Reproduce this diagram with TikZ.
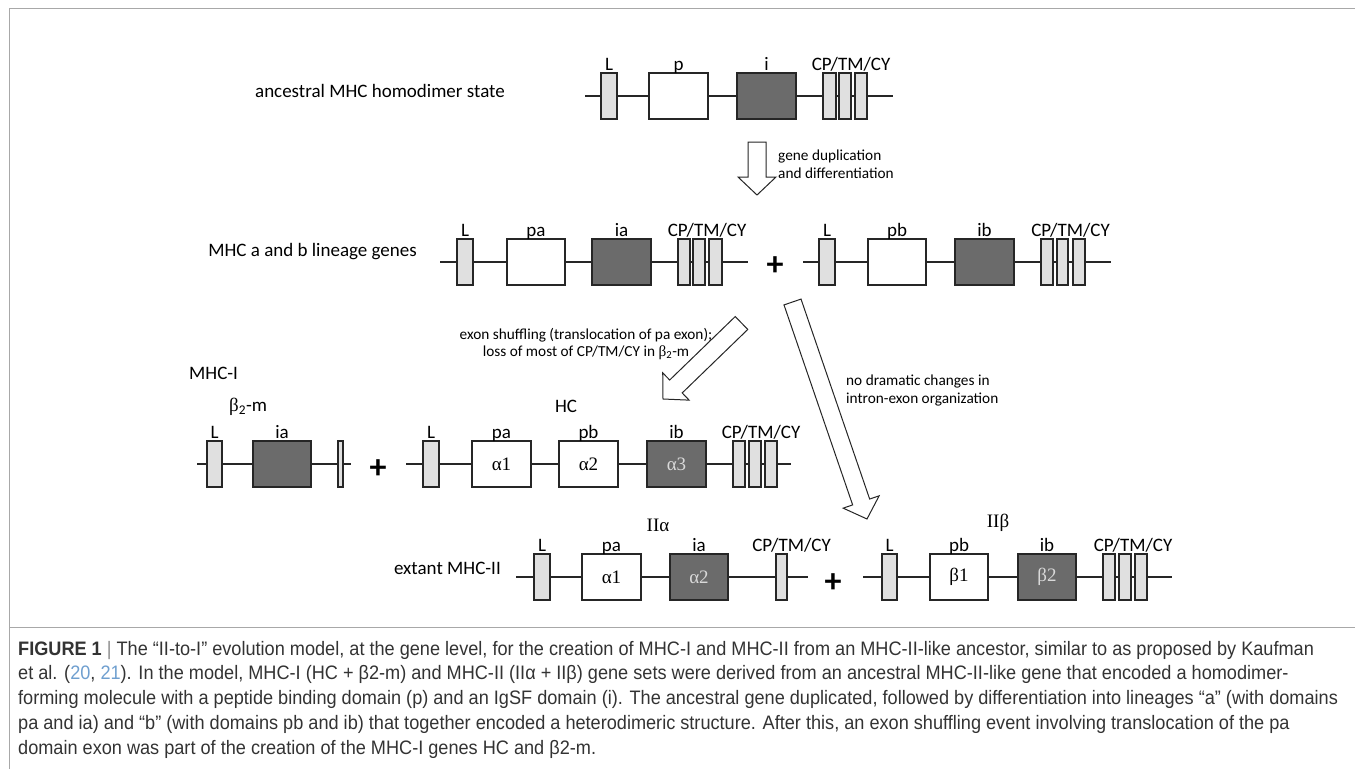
\documentclass[tikz,border=0pt]{standalone}
\usepackage{fontspec}
\setmainfont{Carlito}
\newfontfamily\grfont{Liberation Serif}
\newfontfamily\capfont[FakeStretch=0.93]{Liberation Sans}
\usepackage{tikz}
\usetikzlibrary{calc}
\definecolor{exonlite}{HTML}{E0E0E0}
\definecolor{exondark}{HTML}{6B6B6B}
\definecolor{refblue}{HTML}{6F9FCF}
\definecolor{framegray}{HTML}{A8A8A8}
\tikzset{%
  every exon/.style={
    draw=black!85,
    line width=1.4pt,
    inner sep=0pt,
    minimum height=46pt,
    font=\grfont\fontsize{19}{22}\selectfont
  },
  exon lite/.style={fill=exonlite},
  exon open/.style={fill=white},
  exon dark/.style={fill=exondark, text=black!15},
  exon label/.style={anchor=base, inner sep=0pt, yshift=2pt, font=\fontsize{19}{22}\selectfont},
  backbone/.style={draw=black!85, line width=1.1pt},
  row title/.style={inner sep=0pt, font=\fontsize{19}{22}\selectfont},
  gene name/.style={inner sep=0pt, font=\grfont\fontsize{19}{22}\selectfont},
  note/.style={inner sep=0pt, font=\fontsize{15.3}{17.5}\selectfont},
  block arrow/.style={draw=black!85, fill=white, line width=1pt, line join=miter},
  plus sign/.style={inner sep=0pt, font=\fontsize{34}{34}\selectfont\bfseries},
  caption line/.style={anchor=base west, inner sep=0pt, text=black!80,
    font=\capfont\fontsize{19.5}{22}\selectfont},
}
\newcommand{\blockarrow}[2]{%
  \coordinate (#2-base) at ($(#2)!18pt!(#1)$);
  \draw[block arrow] ($(#1)!9pt!90:(#2)$) -- ($(#2-base)!9pt!90:(#2)$)
    -- ($(#2-base)!19pt!90:(#2)$) -- (#2) -- ($(#2-base)!19pt!-90:(#2)$)
    -- ($(#2-base)!9pt!-90:(#2)$) -- ($(#1)!9pt!-90:(#2)$) -- cycle;
}

\begin{document}
\begin{tikzpicture}[x=1pt, y=-1pt]

    \useasboundingbox (0,0) rectangle (1355,769);
    \draw [framegray, line width=1pt] (9,769) -- (9,8) -- (1356,8);
    \draw [framegray, line width=1pt] (9,627) -- (1356,627);

    % ancestral gene
    \node [row title, anchor=east] (anc-title) at (505,91) {ancestral MHC homodimer state};
    \coordinate (anc-start) at (585,96);
    \coordinate (anc-end) at (893,96);
    \draw [backbone] (anc-start) -- (anc-end);
    \foreach \n/\t/\a/\b/\l in {L/lite/601/617/L, p/open/649/708/p, i/dark/737/796/i,
                                c1/lite/823/836/, c2/lite/839/851/, c3/lite/855/867/} {
        \node [every exon/.try, exon \t/.try, minimum width=\b-\a] (anc-\n) at ({(\a+\b)/2},96) {};
        \node [exon label] at (anc-\n.north) {\l};
    }
    \node [exon label, xshift=6pt] at (anc-c2.north) {CP/TM/CY};

    \coordinate (dup-tail) at (757,142);
    \coordinate (dup-tip) at (757,195);
    \blockarrow{dup-tail}{dup-tip}
    \node [note, anchor=west, align=left] (dup-note) at (778,164) {gene duplication\\and differentiation};

    % a and b lineages
    \node [row title, anchor=east] (lin-title) at (417,252) {MHC a and b lineage genes};
    \coordinate (la-start) at (440,262);
    \coordinate (la-end) at (748,262);
    \draw [backbone] (la-start) -- (la-end);
    \foreach \n/\t/\a/\b/\l in {L/lite/457/473/L, p/open/507/565/pa, i/dark/592/651/ia,
                                c1/lite/678/690/, c2/lite/693/705/, c3/lite/709/722/} {
        \node [every exon/.try, exon \t/.try, minimum width=\b-\a] (la-\n) at ({(\a+\b)/2},262) {};
        \node [exon label] at (la-\n.north) {\l};
    }
    \node [exon label, xshift=8pt] at (la-c2.north) {CP/TM/CY};

    \node [plus sign] (plus-lin) at (775,266) {+};

    \coordinate (lb-start) at (803,262);
    \coordinate (lb-end) at (1111,262);
    \draw [backbone] (lb-start) -- (lb-end);
    \foreach \n/\t/\a/\b/\l in {L/lite/819/835/L, p/open/868/926/pb, i/dark/955/1014/ib,
                                c1/lite/1041/1053/, c2/lite/1057/1068/, c3/lite/1073/1085/} {
        \node [every exon/.try, exon \t/.try, minimum width=\b-\a] (lb-\n) at ({(\a+\b)/2},262) {};
        \node [exon label] at (lb-\n.north) {\l};
    }
    \node [exon label, xshift=8pt] at (lb-c2.north) {CP/TM/CY};

    \coordinate (shuf-tail) at (741.5,323);
    \coordinate (shuf-tip) at (663,399);
    \blockarrow{shuf-tail}{shuf-tip}
    \node [note, align=center] (shuf-note) at (586,344)
        {exon shuffling (translocation of pa exon);\\loss of most of CP/TM/CY in {\grfont β}\textsubscript{2}-m};

    \coordinate (keep-tail) at (792.5,302);
    \coordinate (keep-tip) at (867,519);
    \blockarrow{keep-tail}{keep-tip}
    \node [note, anchor=west, align=left] (keep-note) at (846,390.5)
        {no dramatic changes in\\intron-exon organization};

    % MHC-I
    \node [row title, anchor=west] (mhc1-title) at (189,373) {MHC-I};
    \node [row title, anchor=west] (b2m-title) at (229,407) {{\grfont β}\textsubscript{2}-m};
    \coordinate (b2m-start) at (197,464);
    \coordinate (b2m-end) at (351,464);
    \draw [backbone] (b2m-start) -- (b2m-end);
    \foreach \n/\t/\a/\b/\l in {L/lite/207/222/L, i/dark/253/311/ia, c1/lite/338/343/} {
        \node [every exon/.try, exon \t/.try, minimum width=\b-\a] (b2m-\n) at ({(\a+\b)/2},464) {};
        \node [exon label] at (b2m-\n.north) {\l};
    }

    \node [plus sign] (plus-mhc1) at (378,469) {+};

    \node [row title] (hc-title) at (566,406) {HC};
    \coordinate (hc-start) at (406,464);
    \coordinate (hc-end) at (791,464);
    \draw [backbone] (hc-start) -- (hc-end);
    \foreach \n/\t/\a/\b/\l/\c in {L/lite/423/439/L/, pa/open/472/531/pa/α1, pb/open/559/618/pb/α2,
                                   i/dark/647/706/ib/α3, c1/lite/733/745//, c2/lite/749/761//,
                                   c3/lite/765/777//} {
        \node [every exon/.try, exon \t/.try, minimum width=\b-\a] (hc-\n) at ({(\a+\b)/2},464) {\c};
        \node [exon label] at (hc-\n.north) {\l};
    }
    \node [exon label, xshift=6pt] at (hc-c2.north) {CP/TM/CY};

    % MHC-II
    \node [row title, anchor=east] (mhc2-title) at (501,568) {extant MHC-II};
    \node [gene name] (IIa-title) at (658,525) {IIα};
    \coordinate (IIa-start) at (516,577);
    \coordinate (IIa-end) at (808,577);
    \draw [backbone] (IIa-start) -- (IIa-end);
    \foreach \n/\t/\a/\b/\l/\c in {L/lite/534/550/L/, p/open/582/641/pa/α1, i/dark/670/728/ia/α2,
                                   cp/lite/776/787//} {
        \node [every exon/.try, exon \t/.try, minimum width=\b-\a] (IIa-\n) at ({(\a+\b)/2},577) {\c};
        \node [exon label] at (IIa-\n.north) {\l};
    }
    \node [exon label, xshift=10pt] at (IIa-cp.north) {CP/TM/CY};

    \node [plus sign] (plus-mhc2) at (833,583) {+};

    \node [gene name] (IIb-title) at (998,523) {IIβ};
    \coordinate (IIb-start) at (863,577);
    \coordinate (IIb-end) at (1172,577);
    \draw [backbone] (IIb-start) -- (IIb-end);
    \foreach \n/\t/\a/\b/\l/\c in {L/lite/882/897/L/, p/open/930/988/pb/β1, i/dark/1018/1076/ib/β2,
                                   c1/lite/1103/1115//, c2/lite/1119/1131//, c3/lite/1135/1147//} {
        \node [every exon/.try, exon \t/.try, minimum width=\b-\a] (IIb-\n) at ({(\a+\b)/2},577) {\c};
        \node [exon label] at (IIb-\n.north) {\l};
    }
    \node [exon label, xshift=8pt] at (IIb-c2.north) {CP/TM/CY};

    % caption
    \foreach \l [count=\i from 0] in {
        {\textbf{FIGURE 1} {\color{black!45}|} The “II-to-I” evolution model, at the gene level, for the creation of MHC-I and MHC-II from an MHC-II-like ancestor, similar to as proposed by Kaufman},
        {et al. ({\color{refblue}20}, {\color{refblue}21}). In the model, MHC-I (HC + β2-m) and MHC-II (IIα + IIβ) gene sets were derived from an ancestral MHC-II-like gene that encoded a homodimer-},
        {forming molecule with a peptide binding domain (p) and an IgSF domain (i). The ancestral gene duplicated, followed by differentiation into lineages “a” (with domains},
        {pa and ia) and “b” (with domains pb and ib) that together encoded a heterodimeric structure. After this, an exon shuffling event involving translocation of the pa},
        {domain exon was part of the creation of the MHC-I genes HC and β2-m.}}
    \node [caption line] (cap-\i) at (18,{655+24.75*\i}) {\l};

\end{tikzpicture}
\end{document}
